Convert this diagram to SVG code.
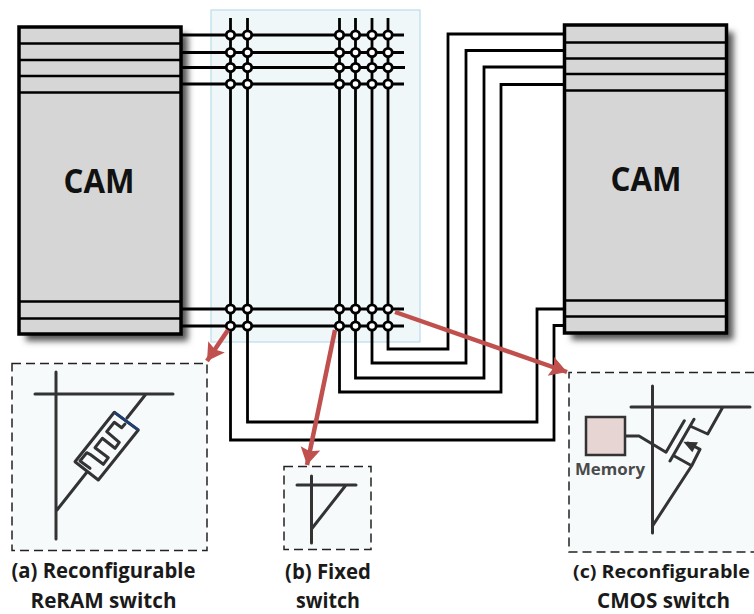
<svg xmlns="http://www.w3.org/2000/svg" width="754" height="614" viewBox="0 0 754 614">
<defs>
<filter id="blur" x="-20%" y="-20%" width="140%" height="140%"><feGaussianBlur stdDeviation="3"/></filter>
<marker id="ah" markerUnits="userSpaceOnUse" markerWidth="22" markerHeight="22" refX="17" refY="11" orient="auto"><path d="M0,1L17,11L0,21L3,11Z" fill="#c0504d"/></marker>
</defs>
<style>
.lbl{font-family:"Open Sans","Liberation Sans",sans-serif;font-weight:700;font-size:20.5px;fill:#1a1a1a;text-anchor:middle}
.cam{font-family:"Open Sans","Liberation Sans",sans-serif;font-weight:700;font-size:34px;fill:#111;text-anchor:middle}
.blk{fill:#d6d6d6;stroke:#000;stroke-width:3.5}
.sep{stroke:#000;stroke-width:2.5;fill:none}
.w{stroke:#000;stroke-width:2.8;fill:none}
.sw{fill:#fff;stroke:#000;stroke-width:2.8}
.dash{fill:#f6fafb;stroke:#222;stroke-width:1.5;stroke-dasharray:9 5}
.sym{fill:none;stroke:#333;stroke-width:3;stroke-linecap:round;stroke-linejoin:round}
.red{fill:none;stroke:#c0504d;stroke-width:4.500;marker-end:url(#ah)}
</style>
<rect id="fabric" x="211" y="10" width="209" height="332" fill="#f0f7f9" stroke="#b9dcea" stroke-width="1.2"/>
<g id="cam-left">
<rect x="26" y="34" width="162" height="307" fill="#555" filter="url(#blur)"/>
<rect class="blk" x="19" y="27" width="162" height="307"/>
<path class="sep" d="M19,43.500H181M19,60H181M19,76H181M19,92.500H181M19,301.500H181M19,318.500H181"/>
<text class="cam" x="99" y="193" textLength="71" lengthAdjust="spacingAndGlyphs">CAM</text>
</g>
<g id="cam-right">
<rect x="571.500" y="32" width="162" height="308" fill="#555" filter="url(#blur)"/>
<rect class="blk" x="564.500" y="25" width="162" height="308"/>
<path class="sep" d="M564.500,42.500H726.500M564.500,58.500H726.500M564.500,74H726.500M564.500,90.500H726.500M564.500,300.500H726.500M564.500,316.500H726.500"/>
<text class="cam" x="646" y="191" textLength="71" lengthAdjust="spacingAndGlyphs">CAM</text>
</g>
<g id="connectors">
<path class="w" d="M181,35H404M181,52.500H404M181,67.500H405M181,84H404M181,309H404M181,326H404"/>
<path class="w" d="M230.500,18V440H554V325.500H564.500M247.500,18V422H537V309H564.500M339.500,18V392H501V84.500H564.500M355.500,18V378H484V67H564.500M372,18V363H466V50.500H564.500M388,18V349H448V34H564.500"/>
</g>
<g id="switches">
<g id="sw-top">
<circle class="sw" cx="230.500" cy="35" r="4.200"/><circle class="sw" cx="247.500" cy="35" r="4.200"/><circle class="sw" cx="339.500" cy="35" r="4.200"/><circle class="sw" cx="355.500" cy="35" r="4.200"/><circle class="sw" cx="372" cy="35" r="4.200"/><circle class="sw" cx="388" cy="35" r="4.200"/>
<circle class="sw" cx="230.500" cy="52.500" r="4.200"/><circle class="sw" cx="247.500" cy="52.500" r="4.200"/><circle class="sw" cx="339.500" cy="52.500" r="4.200"/><circle class="sw" cx="355.500" cy="52.500" r="4.200"/><circle class="sw" cx="372" cy="52.500" r="4.200"/><circle class="sw" cx="388" cy="52.500" r="4.200"/>
<circle class="sw" cx="230.500" cy="67.500" r="4.200"/><circle class="sw" cx="247.500" cy="67.500" r="4.200"/><circle class="sw" cx="339.500" cy="67.500" r="4.200"/><circle class="sw" cx="355.500" cy="67.500" r="4.200"/><circle class="sw" cx="372" cy="67.500" r="4.200"/><circle class="sw" cx="388" cy="67.500" r="4.200"/>
<circle class="sw" cx="230.500" cy="84" r="4.200"/><circle class="sw" cx="247.500" cy="84" r="4.200"/><circle class="sw" cx="339.500" cy="84" r="4.200"/><circle class="sw" cx="355.500" cy="84" r="4.200"/><circle class="sw" cx="372" cy="84" r="4.200"/><circle class="sw" cx="388" cy="84" r="4.200"/>
</g>
<g id="sw-bottom">
<circle class="sw" cx="230.500" cy="309" r="4.200"/><circle class="sw" cx="247.500" cy="309" r="4.200"/><circle class="sw" cx="339.500" cy="309" r="4.200"/><circle class="sw" cx="355.500" cy="309" r="4.200"/><circle class="sw" cx="372" cy="309" r="4.200"/><circle class="sw" cx="388" cy="309" r="4.200"/>
<circle class="sw" cx="230.500" cy="326" r="4.200"/><circle class="sw" cx="247.500" cy="326" r="4.200"/><circle class="sw" cx="339.500" cy="326" r="4.200"/><circle class="sw" cx="355.500" cy="326" r="4.200"/><circle class="sw" cx="372" cy="326" r="4.200"/><circle class="sw" cx="388" cy="326" r="4.200"/>
</g>
</g>
<g id="box-a">
<rect class="dash" x="12" y="363.500" width="195" height="187"/>
<path class="sym" d="M56,372V539M35,394H173M146,394L127,418M87,472L57,510"/>
<path class="sym" d="M114.300,412.300L138.300,430L98.300,480L75,461.700Z"/>
<path class="sym" d="M125,424L121.700,427.700L114.300,422.300L106.700,431.700L119.300,442.300L115,448.300L102.300,438.300L95,447.700L108.300,457.700L103.300,464.300L90,454.300L86.700,452.700L80,461L90,468.300"/>
<path d="M114.300,412.300L138.300,430" stroke="#1f3f7a" stroke-width="2.500" fill="none"/>
<text class="lbl" x="103.500" y="578" textLength="184" lengthAdjust="spacingAndGlyphs">(a) Reconfigurable</text>
<text class="lbl" x="103.500" y="608" textLength="146" lengthAdjust="spacingAndGlyphs">ReRAM switch</text>
</g>
<g id="box-b">
<rect class="dash" x="284" y="466.500" width="87" height="83"/>
<path class="sym" d="M311.500,476V543M297,485H356M346,485L311.500,529"/>
<text class="lbl" x="328" y="579" textLength="86" lengthAdjust="spacingAndGlyphs">(b) Fixed</text>
<text class="lbl" x="328" y="608" textLength="64" lengthAdjust="spacingAndGlyphs">switch</text>
</g>
<g id="box-c">
<path d="M569,372.500H754V552H569Z" fill="#f6fafb"/>
<path d="M754,372.500H569V552H754" fill="none" stroke="#222" stroke-width="1.500" stroke-dasharray="9 5"/>
<path class="sym" d="M652.500,386V533M631,407H750M722.300,408L707.700,434L690,426M694,419.300L670,461M684.300,420.700L666,452.300L639,436H625M674.300,456L691.700,465.700L700,449.300L688,443M691.700,465.700L652.500,526"/>
<path d="M683.300,441.700L698,442.300L692.300,452.300Z" fill="#333"/>
<rect x="586" y="417" width="39" height="38" fill="#e6d5d3" stroke="#333" stroke-width="2.500"/>
<text x="610" y="475" text-anchor="middle" textLength="70" lengthAdjust="spacingAndGlyphs" style="font-family:'Open Sans','Liberation Sans',sans-serif;font-weight:700;font-size:16.5px;fill:#4a4a4a">Memory</text>
<text class="lbl" x="661.500" y="578" textLength="177" lengthAdjust="spacingAndGlyphs" style="font-size:18.5px">(c) Reconfigurable</text>
<text class="lbl" x="663.500" y="608" textLength="133" lengthAdjust="spacingAndGlyphs">CMOS switch</text>
</g>
<g id="arrows">
<path class="red" d="M228,330L207,361"/>
<path class="red" d="M335,330L307,465"/>
<path class="red" d="M395,312L567,372"/>
</g>
</svg>
